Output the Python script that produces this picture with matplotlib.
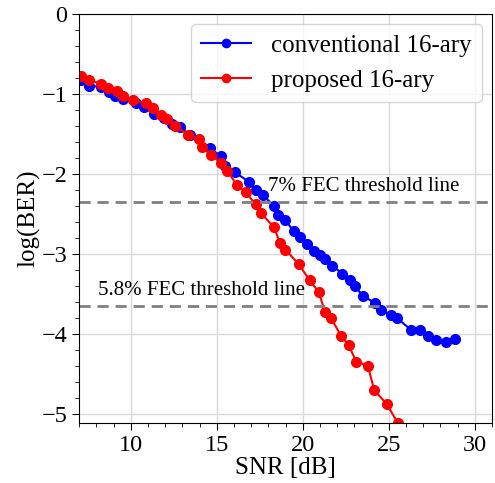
import matplotlib.pyplot as plt
from matplotlib.ticker import MultipleLocator

plt.rcParams['font.family'] = ['Liberation Serif', 'DejaVu Serif']
plt.rcParams['mathtext.fontset'] = 'stix'

# conventional 16-ary (SNR dB, log10 BER)
snr_conv = [7.10, 7.55, 8.26, 8.74, 9.09, 9.55, 10.29, 10.77, 11.35, 11.93,
            12.42, 12.86, 13.44, 14.60, 15.24, 15.47, 16.05, 16.86, 17.25,
            17.70, 18.31, 18.58, 18.99, 19.47, 19.81, 20.24, 20.67, 20.97,
            21.30, 21.72, 22.30, 22.73, 23.04, 23.51, 24.22, 24.53, 25.12,
            25.50, 26.27, 26.81, 27.29, 27.74, 28.32, 28.84]
ber_conv = [-0.83, -0.90, -0.91, -0.98, -1.02, -1.06, -1.12, -1.17, -1.25, -1.30,
            -1.38, -1.41, -1.52, -1.68, -1.78, -1.90, -1.98, -2.10, -2.20,
            -2.27, -2.40, -2.51, -2.58, -2.72, -2.79, -2.88, -2.96, -3.01,
            -3.06, -3.15, -3.25, -3.33, -3.41, -3.53, -3.62, -3.71, -3.77,
            -3.81, -3.95, -3.95, -4.03, -4.08, -4.10, -4.07]

# proposed 16-ary
snr_prop = [7.10, 7.55, 8.26, 8.68, 9.17, 9.55, 10.13, 10.87, 11.29, 11.74,
            12.13, 12.55, 13.32, 13.96, 14.14, 14.64, 15.27, 15.62, 16.18,
            16.67, 17.25, 17.56, 18.33, 18.66, 18.99, 19.76, 20.39, 20.92,
            21.30, 21.65, 22.23, 22.66, 23.10, 23.78, 24.15, 24.88, 25.52]
ber_prop = [-0.78, -0.83, -0.87, -0.92, -0.96, -1.02, -1.08, -1.12, -1.18, -1.27,
            -1.31, -1.40, -1.51, -1.57, -1.66, -1.76, -1.87, -1.97, -2.14,
            -2.23, -2.38, -2.49, -2.67, -2.86, -2.95, -3.13, -3.33, -3.48,
            -3.73, -3.81, -4.03, -4.14, -4.35, -4.40, -4.71, -4.88, -5.12]

fec_levels = [-2.35, -3.65]
fec_labels = ['7% FEC threshold line', '5.8% FEC threshold line']
fec_text_x = [18.0, 8.1]

fig = plt.figure(figsize=(4.95, 4.83), dpi=100)
ax = fig.add_axes([0.16, 0.124, 0.834, 0.847])

ax.plot(snr_conv, ber_conv, '-o', color='blue', markersize=7, linewidth=1.5,
        label='conventional 16-ary')
ax.plot(snr_prop, ber_prop, '-o', color='red', markersize=7, linewidth=1.5,
        label='proposed 16-ary')

for lvl, txt, tx in zip(fec_levels, fec_labels, fec_text_x):
    ax.axhline(lvl, color='gray', linestyle='--', linewidth=2, dashes=(4, 2.5))
    ax.text(tx, lvl + 0.07, txt, fontsize=15, va='bottom', ha='left')

ax.set_xlim(7, 31)
ax.set_ylim(-5.12, 0)
ax.xaxis.set_major_locator(MultipleLocator(5))
ax.xaxis.set_minor_locator(MultipleLocator(1))
ax.yaxis.set_major_locator(MultipleLocator(1))
ax.yaxis.set_minor_locator(MultipleLocator(0.2))
ax.tick_params(which='major', labelsize=17.5, length=5)
ax.tick_params(which='minor', length=3)
ax.grid(True, which='major', color='#d9d9d9', linewidth=1)
ax.set_axisbelow(True)

ax.set_xlabel('SNR [dB]', fontsize=18, labelpad=1)
ax.set_ylabel('log(BER)', fontsize=18, labelpad=1)

ax.legend(loc='upper right', fontsize=18, handlelength=2.0, borderaxespad=0.4,
          markerscale=0.85)

fig.savefig('out.png', dpi=100)
